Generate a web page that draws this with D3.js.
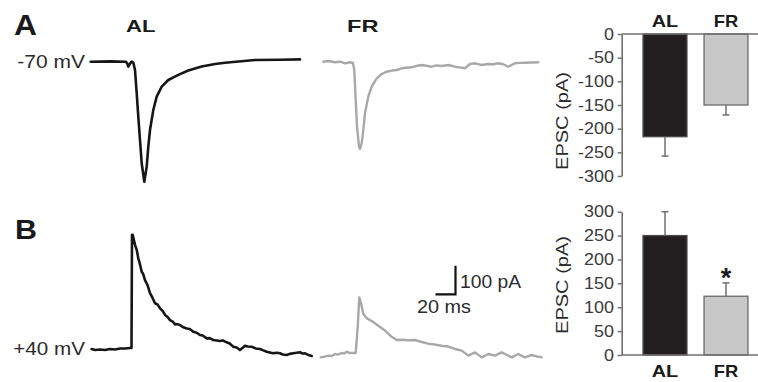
<!DOCTYPE html>
<html><head><meta charset="utf-8">
<script src="https://cdn.jsdelivr.net/npm/d3@7"></script>
<style>
html,body{margin:0;padding:0;background:#fff;}
svg{display:block;font-family:"Liberation Sans",Arial,sans-serif;}
</style></head>
<body><svg id="c" width="758" height="382"></svg>
<script>
// ---------------- data ----------------
const groups = ["AL", "FR"];
const epscNeg70 = [-217, -150];      // mean EPSC at -70 mV (pA)
const semNeg70 = [41, 21];
const epscPos40 = [250, 123];        // mean EPSC at +40 mV (pA)
const semPos40 = [50, 28];
const ticksNeg70 = [0, -50, -100, -150, -200, -250, -300];
const ticksPos40 = [0, 50, 100, 150, 200, 250, 300];

// example traces: [time (ms), current (pA)] relative to trace start / holding baseline
const traceNeg70AL = [[0,0],[20,1],[35,0],[36.5,-6],[37.6,-17],[39.5,-6],[41,0],[42.6,-3],
  [44.3,-29],[46,-110],[47.6,-192],[49.3,-274],[51,-355],[53.6,-420],[56,-367],[57.6,-297],
  [59.3,-239],[62.6,-169],[66,-122],[71,-87],[77.6,-64],[87.6,-46],[97.6,-31],[111,-17],
  [124.3,-8],[134.3,-3.5],[164.3,6],[190,7],[209.3,8]];
const traceNeg70FR = [[0,0],[5,2.4],[11.7,-2],[16.7,0],[21.7,-5.6],[26.7,-2],[29.7,-4.5],
  [31,-29],[32.4,-134],[33.7,-227],[35.7,-297],[36.7,-305],[38.4,-285],[40,-239],[41.7,-180],
  [45,-122],[48.4,-87],[53.4,-58],[58.4,-43],[63.4,-35],[68.4,-31],[73.4,-29],[78.4,-23],
  [83,-21],[88.4,-19.6],[93,-15],[98.4,-11.5],[103,-14],[108.4,-17.5],[113,-13],[118.4,-15],
  [125,-11.5],[131.7,-17.5],[136,-20],[141.7,-23],[146.7,-8],[151.7,-5.6],[158.4,-11.5],
  [165,-8],[170,-9],[175,-5.6],[180,-9],[185,-17.5],[191.7,-5.6],[196,-4],[201.7,-3.5],[208,-3],[215,-2]];
const tracePos40AL = [[0,0],[3.3,-3.5],[8.3,-1.7],[13.3,-3.5],[18.3,0],[23.3,-1.7],[28.3,1.7],
  [33.3,1.7],[38.3,3.5],[39.8,3.5],[40.3,399],[41,399],[43.3,364],[45,347],[46.6,317],[48,300],
  [50,270],[51.5,262],[53.3,241],[56,222],[58.3,195],[60.5,181],[63.3,160],[66,155],[68.3,142],
  [71,133],[73.3,119],[76,112],[78.3,101],[81,96],[83.3,86],[85.5,87],[88.3,84],[91,77],[95,72],
  [98,70],[101.6,60],[105,57],[108.3,49],[111,47],[115,37],[118,38],[121.6,31.5],[125,30],
  [128.3,28],[131,30],[135,23.4],[138,19],[141.6,8],[145,5],[148.3,-3.5],[151,4],[153.3,11.5],
  [156,9],[160,8],[164,2],[168.3,0],[171,-4],[175,-9.4],[178,-12],[181.6,-15],[185,-13],
  [188.3,-15],[191,-19],[195,-21],[198,-17],[201.6,-15],[205,-13],[208.3,-11.5],[211,-16],
  [213.3,-15],[216,-20],[220,-24.5]];
const tracePos40FR = [[0,-11.7],[4,-9],[7.6,-5.8],[11,-7],[14.3,0],[17,-2],[21,3.5],[23.5,2],
  [26,8.2],[28.5,4],[31,3.5],[35,3.5],[37,95],[38.6,198],[40.3,178],[42.6,140],[46,125],
  [51,115],[57.6,99],[64.3,82],[71,60],[76,49],[81,50],[87.6,48],[94.3,49],[101,42],[107.6,36],
  [114.3,33],[121,29],[127.6,26],[134.3,17.5],[141,11.7],[147.6,-5.8],[154.3,5.8],[161,-11.7],
  [167.6,0],[174.3,-5.8],[181,5.8],[184.3,0],[191,-11.7],[197.6,0],[204.3,-11.7],[211,-3.5],
  [216,-8.2],[221,-11.7]];

const scaleBarTime = 20;   // ms
const scaleBarAmp = 100;   // pA

// ---------------- drawing ----------------
const svg = d3.select("#c");
const TXT = "#2b2b2b";

function label(str, x0, x1, base, size, weight, fill) {
  svg.append("text").attr("x", x0).attr("y", base)
    .attr("font-size", size).attr("font-weight", weight || "normal")
    .attr("fill", fill || TXT)
    .attr("textLength", x1 - x0).attr("lengthAdjust", "spacingAndGlyphs")
    .text(str);
}

// panel letters & group labels
label("A", 14, 37, 35, 30, "bold", "#1a1a1a");
label("B", 15, 37, 238.5, 27, "bold", "#1a1a1a");
label("AL", 126, 155.5, 31.7, 16.5, "bold", "#1a1a1a");
label("FR", 347, 378.5, 31.7, 16.5, "bold", "#1a1a1a");
label("-70 mV", 17.3, 85, 68.3, 18);
label("+40 mV", 13.3, 85, 355, 18);

// trace scales: 1 ms per px, 100 pA per 28.6 px
const pxPerMs = 1, pxPer100pA = 28.6;
function traceScales(x0, y0) {
  return {
    x: d3.scaleLinear().domain([0, 100]).range([x0, x0 + 100 * pxPerMs]),
    y: d3.scaleLinear().domain([0, 100]).range([y0, y0 - pxPer100pA])
  };
}
function drawTrace(data, x0, y0, color, width) {
  const s = traceScales(x0, y0);
  const line = d3.line().x(d => s.x(d[0])).y(d => s.y(d[1])).curve(d3.curveLinear);
  svg.append("path").datum(data).attr("d", line)
    .attr("fill", "none").attr("stroke", color).attr("stroke-width", width)
    .attr("stroke-linejoin", "round").attr("stroke-linecap", "round");
}
drawTrace(traceNeg70AL, 90.7, 61.7, "#161616", 2.6);
drawTrace(traceNeg70FR, 323.3, 61.7, "#a8a8a8", 2.4);
drawTrace(tracePos40AL, 91.7, 349, "#161616", 2.6);
drawTrace(tracePos40FR, 320.7, 354, "#a8a8a8", 2.4);

// scale bar
{
  const s = traceScales(0, 0);
  const cx = 455.5, cy = 294.3;
  const w = s.x(scaleBarTime) - s.x(0), h = s.y(0) - s.y(scaleBarAmp);
  svg.append("path")
    .attr("d", `M${cx - w},${cy}H${cx}V${cy - h}`)
    .attr("fill", "none").attr("stroke", "#111").attr("stroke-width", 2.2);
  label("100 pA", 460, 521, 288.3, 18);
  label("20 ms", 417, 471, 313.3, 18);
}

// bar charts
const AX = "#6f6f6f";
const xBand = d3.scaleBand().domain(groups).range([634.5, 756.5]).paddingInner(0.28).paddingOuter(0.14);
const fills = { AL: "#231f20", FR: "#c8c8c8" };
const strokes = { AL: "#4a4a4a", FR: "#6a6a6a" };

function barChart(yScale, ticks, values, sems, axisX, labelCenterY, groupLabelBase) {
  const g = svg.append("g");
  groups.forEach((k, i) => {
    const v = values[i];
    const y0 = yScale(0), y1 = yScale(v);
    g.append("rect").attr("x", xBand(k)).attr("width", xBand.bandwidth())
      .attr("y", Math.min(y0, y1)).attr("height", Math.abs(y1 - y0))
      .attr("fill", fills[k]).attr("stroke", strokes[k]).attr("stroke-width", 1.3);
    const cx = xBand(k) + xBand.bandwidth() / 2;
    const sign = v < 0 ? -1 : 1;
    const ye = yScale(v + sign * sems[i]);
    g.append("line").attr("x1", cx).attr("x2", cx).attr("y1", y1).attr("y2", ye)
      .attr("stroke", AX).attr("stroke-width", 1.5);
    g.append("line").attr("x1", cx - 3.5).attr("x2", cx + 3.5).attr("y1", ye).attr("y2", ye)
      .attr("stroke", AX).attr("stroke-width", 1.5);
    const lw = k === "AL" ? 26.5 : 24.5;
    g.append("text").attr("x", cx - lw / 2).attr("y", groupLabelBase)
      .attr("font-size", 16.5).attr("font-weight", "bold").attr("fill", "#1a1a1a")
      .attr("textLength", lw).attr("lengthAdjust", "spacingAndGlyphs").text(k);
  });
  g.append("line").attr("x1", axisX).attr("x2", 758).attr("y1", yScale(0)).attr("y2", yScale(0))
    .attr("stroke", AX).attr("stroke-width", 1.6);
  const ax = g.append("g").attr("transform", `translate(${axisX},0)`)
    .call(d3.axisLeft(yScale).tickValues(ticks).tickFormat(d => String(d))
      .tickSize(4).tickSizeOuter(0).tickPadding(3));
  ax.select(".domain").attr("stroke", AX).attr("stroke-width", 1.6);
  ax.selectAll(".tick line").attr("stroke", AX).attr("stroke-width", 1.5);
  ax.selectAll(".tick text").attr("font-size", 16).attr("fill", "#3a3a3a")
    .attr("font-family", '"Liberation Sans",Arial,sans-serif')
    .attr("transform", "scale(1.12,1)");
  g.append("text").attr("transform", `translate(567.5,${labelCenterY}) rotate(-90)`)
    .attr("text-anchor", "middle").attr("font-size", 16).attr("fill", TXT)
    .attr("textLength", 98).attr("lengthAdjust", "spacingAndGlyphs").text("EPSC (pA)");
}

const yNeg = d3.scaleLinear().domain([-300, 0]).range([176, 34]);
const yPos = d3.scaleLinear().domain([0, 300]).range([355, 211.7]);
barChart(yNeg, ticksNeg70, epscNeg70, semNeg70, 621.7, 121, 27.3);
barChart(yPos, ticksPos40, epscPos40, semPos40, 621.7, 285, 376.7);

// significance marker
svg.append("text").attr("x", xBand("FR") + xBand.bandwidth() / 2).attr("y", 287)
  .attr("text-anchor", "middle").attr("font-size", 27).attr("font-weight", "bold")
  .attr("fill", "#1a1a1a").text("*");
</script>
</body></html>
